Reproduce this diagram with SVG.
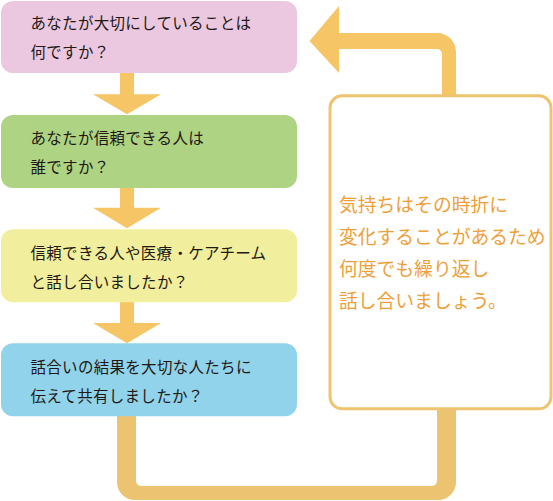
<svg xmlns="http://www.w3.org/2000/svg" width="553" height="501" viewBox="0 0 553 501">
<style>
.t{font-family:"Noto Sans CJK JP","Noto Sans CJK SC",sans-serif;font-size:15.5px;fill:#231815;letter-spacing:0.3px}
.o{font-family:"Noto Sans CJK JP","Noto Sans CJK SC",sans-serif;font-size:18.8px;fill:#EE9F3A}
.arw{fill:#F6C566}
.loop{fill:#ECC371}
</style>
<rect width="553" height="501" fill="#FFFFFF"/>
<g id="connectors">
<path class="arw" d="M120,73 H134 V94.3 H161 L127,114.3 L93,94.3 H120 Z"/>
<path class="arw" d="M120,188 H134 V207.7 H161 L127,228.3 L93,207.7 H120 Z"/>
<path class="arw" d="M120,302 H134 V323 H161 L127,343.3 L93,323 H120 Z"/>
<path class="arw" d="M442,96 V54 A5,5 0 0 0 437,49 H339 V73 L309.5,41 L339,6 V33 H437 A19,19 0 0 1 456,52 V96 Z"/>
<path class="loop" d="M117,414 V482 A18,18 0 0 0 135,500 H438 A18,18 0 0 0 456,482 V408 H437 V481 A5,5 0 0 1 432,486 H141 A5,5 0 0 1 136,481 V414 Z"/>
</g>
<g id="node1">
<rect x="1" y="1" width="296" height="72" rx="12" fill="#EBC8DF"/>
<text class="t" x="30.5" y="28.6">あなたが大切にしていることは</text>
<text class="t" x="30.5" y="57.6">何ですか？</text>
</g>
<g id="node2">
<rect x="1" y="115" width="296" height="73" rx="12" fill="#ADD383"/>
<text class="t" x="30.5" y="144.2">あなたが信頼できる人は</text>
<text class="t" x="30.5" y="172.6">誰ですか？</text>
</g>
<g id="node3">
<rect x="1" y="229.3" width="296" height="73" rx="12" fill="#F1EF9D"/>
<text class="t" x="30.5" y="259.2">信頼できる人や医療・ケアチーム</text>
<text class="t" x="30.5" y="288.2">と話し合いましたか？</text>
</g>
<g id="node4">
<rect x="1" y="343.3" width="296" height="73" rx="12" fill="#90D3EA"/>
<text class="t" x="30.5" y="372.6">話合いの結果を大切な人たちに</text>
<text class="t" x="30.5" y="401.6">伝えて共有しましたか？</text>
</g>
<g id="note">
<rect x="330" y="95.8" width="221" height="313" rx="12" fill="#FFFFFF" stroke="#F0C46E" stroke-width="3"/>
<text class="o" x="339" y="212">気持ちはその時折に</text>
<text class="o" x="339" y="244">変化することがあるため</text>
<text class="o" x="339" y="276">何度でも繰り返し</text>
<text class="o" x="339" y="308">話し合いましょう。</text>
</g>
</svg>
